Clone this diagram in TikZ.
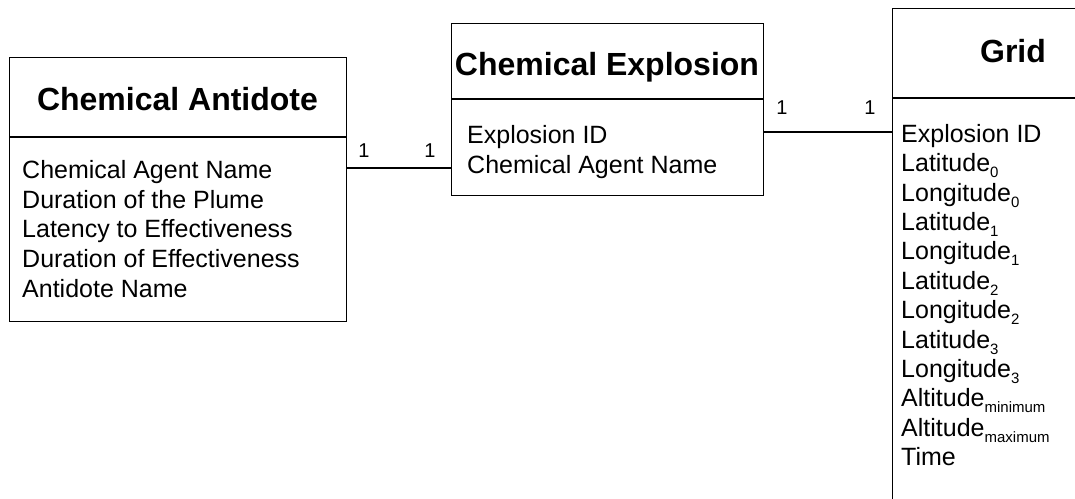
\documentclass[tikz,border=0pt]{standalone}
\usepackage{fontspec}
\setmainfont{Liberation Sans}
\newcommand{\sbs}[1]{\raisebox{-6pt}{\fontsize{15}{29.4}\selectfont #1}}
\begin{document}
\begin{tikzpicture}[x=1pt,y=-1pt,
  box/.style={draw, line width=1.3pt, inner sep=0pt, anchor=north west},
  conn/.style={draw, line width=1.3pt},
  title/.style={inner sep=0pt, anchor=base, font=\fontsize{32}{36}\selectfont\bfseries},
  body/.style={inner sep=0pt, anchor=north west, align=left, font=\fontsize{25}{29.8}\selectfont},
  gbody/.style={body, font=\fontsize{25}{29.4}\selectfont},
  lbl/.style={inner sep=0pt, font=\fontsize{20}{24}\selectfont}]
\useasboundingbox (0,0) rectangle (1075,498);
\path[clip] (0,0) rectangle (1075,498);
% Chemical Antidote
\node[box, minimum width=337pt, minimum height=264pt] (ant) at (9,57) {};
\draw[line width=1.3pt] (ant.west |- 0,137) -- (ant.east |- 0,137);
\node[title] (antT) at (177.5,110) {Chemical Antidote};
\node[body] (antB) at (22,160) {Chemical Agent Name\\Duration of the Plume\\Latency to Effectiveness\\Duration of Effectiveness\\Antidote Name};
% Chemical Explosion
\node[box, minimum width=312pt, minimum height=172pt] (exp) at (451,23) {};
\draw[line width=1.3pt] (exp.west |- 0,99) -- (exp.east |- 0,99);
\node[title] (expT) at (607,75) {Chemical Explosion};
\node[body] (expB) at (467,125) {Explosion ID\\Chemical Agent Name};
% Grid (cut off at the page edge)
\node[box, minimum width=300pt, minimum height=520pt] (grid) at (892,8) {};
\draw[line width=1.3pt] (grid.west |- 0,98) -- (grid.east |- 0,98);
\node[title] (gridT) at (1013,62) {Grid};
\node[gbody] (gridB) at (901,124) {Explosion ID\\Latitude\sbs{0}\\Longitude\sbs{0}\\Latitude\sbs{1}\\Longitude\sbs{1}\\Latitude\sbs{2}\\Longitude\sbs{2}\\Latitude\sbs{3}\\Longitude\sbs{3}\\Altitude\sbs{minimum}\\Altitude\sbs{maximum}\\Time};
% connectors
\draw[conn] (ant.east |- 0,168) -- (exp.west |- 0,168);
\draw[conn] (exp.east |- 0,132) -- (grid.west |- 0,132);
\node[lbl] (l1a) at (364,151) {1};
\node[lbl] (l1b) at (430,151) {1};
\node[lbl] (l2a) at (782,108) {1};
\node[lbl] (l2b) at (870,108) {1};
\end{tikzpicture}
\end{document}
